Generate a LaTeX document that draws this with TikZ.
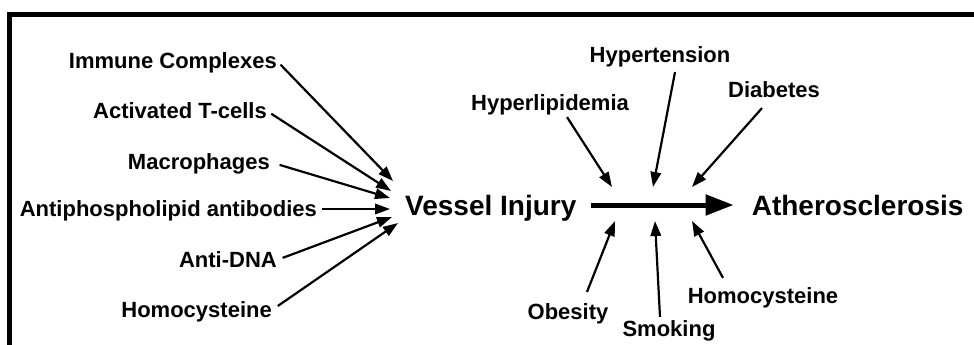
\documentclass[tikz,border=0pt]{standalone}
\usepackage{fontspec}
\setmainfont{Liberation Sans}
\usetikzlibrary{arrows.meta,positioning}

\begin{document}
\begin{tikzpicture}[
  x=1pt,y=-1pt,
  cause/.style={inner sep=0pt,text height=15.75pt,text depth=0pt,
    font=\fontsize{22}{24}\selectfont\bfseries},
  stage/.style={inner sep=0pt,text height=20pt,text depth=0pt,
    font=\fontsize{28}{30}\selectfont\bfseries},
  hit/.style={-{Triangle[length=15pt,width=10.5pt]},line width=2.2pt},
  main/.style={-{Triangle[length=28pt,width=20pt]},line width=5pt}
]
\useasboundingbox (0,0) rectangle (974,345);
\draw[line width=5pt] (974,14.5) -- (9.5,14.5) -- (9.5,345);

\node[stage,anchor=west] (vi) at (405,205) {Vessel Injury};
\node[stage,right=175pt of vi] (ath) {Atherosclerosis};
\draw[main,shorten <=14pt,shorten >=18pt] (vi.east) -- (ath.west);

% causes of vessel injury
\node[cause,anchor=east] (ic) at (277,61) {Immune Complexes};
\node[cause,anchor=east] (tc) at (267,111) {Activated T-cells};
\node[cause,anchor=east] (mp) at (270,162) {Macrophages};
\node[cause,anchor=east] (ap) at (317,209) {Antiphospholipid antibodies};
\node[cause,anchor=east] (dna) at (277,260) {Anti-DNA};
\node[cause,anchor=east] (hcl) at (272,310) {Homocysteine};
\draw[hit,shorten <=5pt] (ic.east) -- ([xshift=-12pt,yshift=24pt]vi.west);
\draw[hit,shorten <=5pt] (tc.east) -- ([xshift=-14pt,yshift=14pt]vi.west);
\draw[hit,shorten <=10pt] (mp.east) -- ([xshift=-15pt,yshift=7pt]vi.west);
\draw[hit,shorten <=5pt] (ap.east) -- ([xshift=-15pt,yshift=-4pt]vi.west);
\draw[hit,shorten <=6pt] (dna.east) -- ([xshift=-13pt,yshift=-12pt]vi.west);
\draw[hit,shorten <=7pt] (hcl.east) -- ([xshift=-7pt,yshift=-18pt]vi.west);

% risk factors on the progression
\coordinate (hl-end) at (612,187);
\coordinate (ht-end) at (653,187);
\coordinate (db-end) at (692,187);
\coordinate (ob-end) at (615,221);
\coordinate (sm-end) at (655,221);
\coordinate (hcr-end) at (692,221);

\node[cause] (hl) at (550,103) {Hyperlipidemia};
\node[cause] (ht) at (660,55) {Hypertension};
\node[cause] (db) at (774,90) {Diabetes};
\node[cause] (ob) at (568,312) {Obesity};
\node[cause] (sm) at (669,329) {Smoking};
\node[cause] (hcr) at (763,296) {Homocysteine};
\draw[hit] ([xshift=17pt,yshift=-6pt]hl.south) -- (hl-end);
\draw[hit] ([xshift=15pt,yshift=-9pt]ht.south) -- (ht-end);
\draw[hit] ([xshift=-12pt,yshift=-10pt]db.south) -- (db-end);
\draw[hit] ([xshift=19pt,yshift=12pt]ob.north) -- (ob-end);
\draw[hit] ([xshift=-9pt,yshift=4pt]sm.north) -- (sm-end);
\draw[hit] ([xshift=-40pt,yshift=10pt]hcr.north) -- (hcr-end);
\end{tikzpicture}
\end{document}
